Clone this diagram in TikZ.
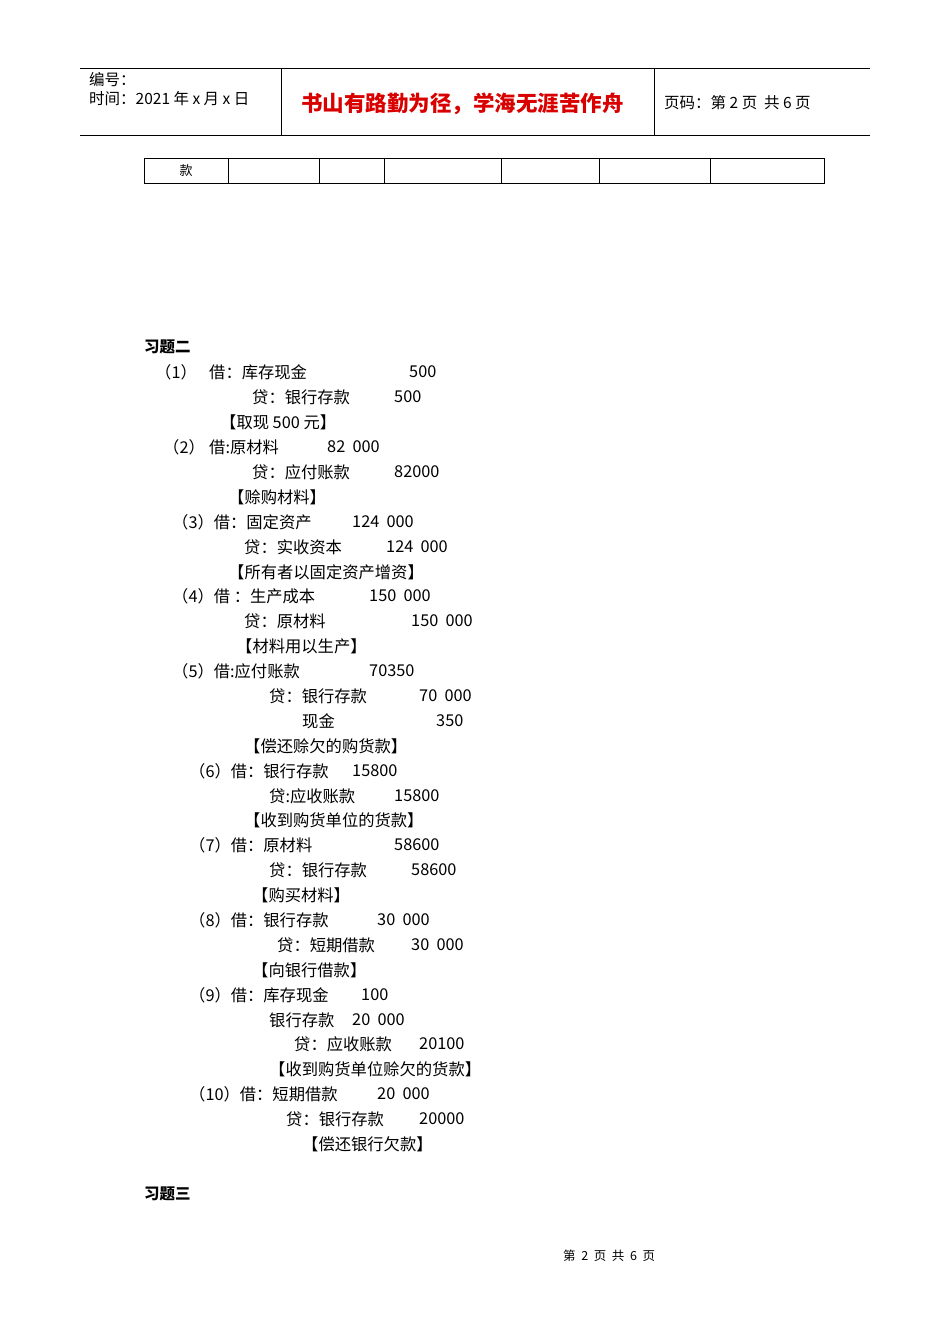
\documentclass[tikz,border=0pt]{standalone}
\usepackage{fontspec}
\setmainfont{Noto Sans CJK SC}
\newfontfamily\cjk{Noto Sans CJK SC}
\begin{document}
\begin{tikzpicture}[x=1pt,y=-1pt,
 tx/.style={anchor=west,inner sep=0pt,font=\cjk\fontsize{16.3}{17}\selectfont},
 hd/.style={anchor=west,inner sep=0pt,font=\cjk\fontsize{15.5}{17}\selectfont},
 bd/.style={anchor=west,inner sep=0pt,font=\cjk\bfseries\fontsize{15.5}{17}\selectfont},
 rl/.style={line width=0.6pt}]
\useasboundingbox[fill=white] (0,0) rectangle (950,1344);
% header
\draw[rl] (80,68) -- (870,68);
\draw[rl] (80,135) -- (870,135);
\draw[rl] (281,68) -- (281,135);
\draw[rl] (654,68) -- (654,135);
\node[hd] (h1) at (89,80) {编号：};
\node[hd] (h2) at (89,99) {时间：2021 年 x 月 x 日};
\node[anchor=west,inner sep=0pt,text=red!85!black,font=\cjk\bfseries\fontsize{21.5}{23}\selectfont] (h3) at (301,104) {书山有路勤为径，学海无涯苦作舟};
\node[hd] (h4) at (664,103) {页码：第 2 页\ \ 共 6 页};
% table
\draw[rl] (144,158) rectangle (824,183);
\foreach \x in {228,319,384,501,599,710} \draw[rl] (\x,158) -- (\x,183);
\node[anchor=center,inner sep=0pt,font=\cjk\fontsize{13}{14}\selectfont] (k) at (186,171) {款};
% body
\node[bd] (s2) at (144,347) {习题二};
\node[tx] (a1) at (155,372) {（1）};
\node[tx] (a2) at (209,372) {借：库存现金};
\node[tx] (a3) at (409,372) {500};
\node[tx] (a4) at (252,397) {贷：银行存款};
\node[tx] (a5) at (394,397) {500};
\node[tx] (a6) at (220,422) {【取现 500 元】};
\node[tx] (b1) at (163,447) {（2）};
\node[tx] (b2) at (209,447) {借:原材料};
\node[tx] (b3) at (327,447) {82\ \ 000};
\node[tx] (b4) at (252,472) {贷：应付账款};
\node[tx] (b5) at (394,472) {82000};
\node[tx] (b6) at (228,497) {【赊购材料】};
\node[tx] (c1) at (172,522) {（3）借：固定资产};
\node[tx] (c2) at (352,522) {124\ \ 000};
\node[tx] (c3) at (244,547) {贷：实收资本};
\node[tx] (c4) at (386,547) {124\ \ 000};
\node[tx] (c5) at (228,572) {【所有者以固定资产增资】};
\node[tx] (d1) at (172,596) {（4）借 ：生产成本};
\node[tx] (d2) at (369,596) {150\ \ 000};
\node[tx] (d3) at (244,621) {贷：原材料};
\node[tx] (d4) at (411,621) {150\ \ 000};
\node[tx] (d5) at (236,646) {【材料用以生产】};
\node[tx] (e1) at (172,671) {（5）借:应付账款};
\node[tx] (e2) at (369,671) {70350};
\node[tx] (e3) at (269,696) {贷：银行存款};
\node[tx] (e4) at (419,696) {70\ \ 000};
\node[tx] (e5) at (302,721) {现金};
\node[tx] (e6) at (436,721) {350};
\node[tx] (e7) at (244,746) {【偿还赊欠的购货款】};
\node[tx] (f1) at (189,771) {（6）借：银行存款};
\node[tx] (f2) at (352,771) {15800};
\node[tx] (f3) at (269,796) {贷:应收账款};
\node[tx] (f4) at (394,796) {15800};
\node[tx] (f5) at (244,820) {【收到购货单位的货款】};
\node[tx] (g1) at (189,845) {（7）借：原材料};
\node[tx] (g2) at (394,845) {58600};
\node[tx] (g3) at (269,870) {贷：银行存款};
\node[tx] (g4) at (411,870) {58600};
\node[tx] (g5) at (252,895) {【购买材料】};
\node[tx] (i1) at (189,920) {（8）借：银行存款};
\node[tx] (i2) at (377,920) {30\ \ 000};
\node[tx] (i3) at (277,945) {贷：短期借款};
\node[tx] (i4) at (411,945) {30\ \ 000};
\node[tx] (i5) at (252,970) {【向银行借款】};
\node[tx] (j1) at (189,995) {（9）借：库存现金};
\node[tx] (j2) at (361,995) {100};
\node[tx] (j3) at (269,1020) {银行存款};
\node[tx] (j4) at (352,1020) {20\ \ 000};
\node[tx] (j5) at (294,1044) {贷：应收账款};
\node[tx] (j6) at (419,1044) {20100};
\node[tx] (j7) at (269,1069) {【收到购货单位赊欠的货款】};
\node[tx] (m1) at (189,1094) {（10）借：短期借款};
\node[tx] (m2) at (377,1094) {20\ \ 000};
\node[tx] (m3) at (286,1119) {贷：银行存款};
\node[tx] (m4) at (419,1119) {20000};
\node[tx] (m5) at (302,1144) {【偿还银行欠款】};
\node[bd] (s3) at (144,1194) {习题三};
\node[anchor=west,inner sep=0pt,font=\cjk\fontsize{12.5}{14}\selectfont] (ft) at (563,1256) {第\ \ 2\ \ 页\ \ 共\ \ 6\ \ 页};
\end{tikzpicture}
\end{document}
